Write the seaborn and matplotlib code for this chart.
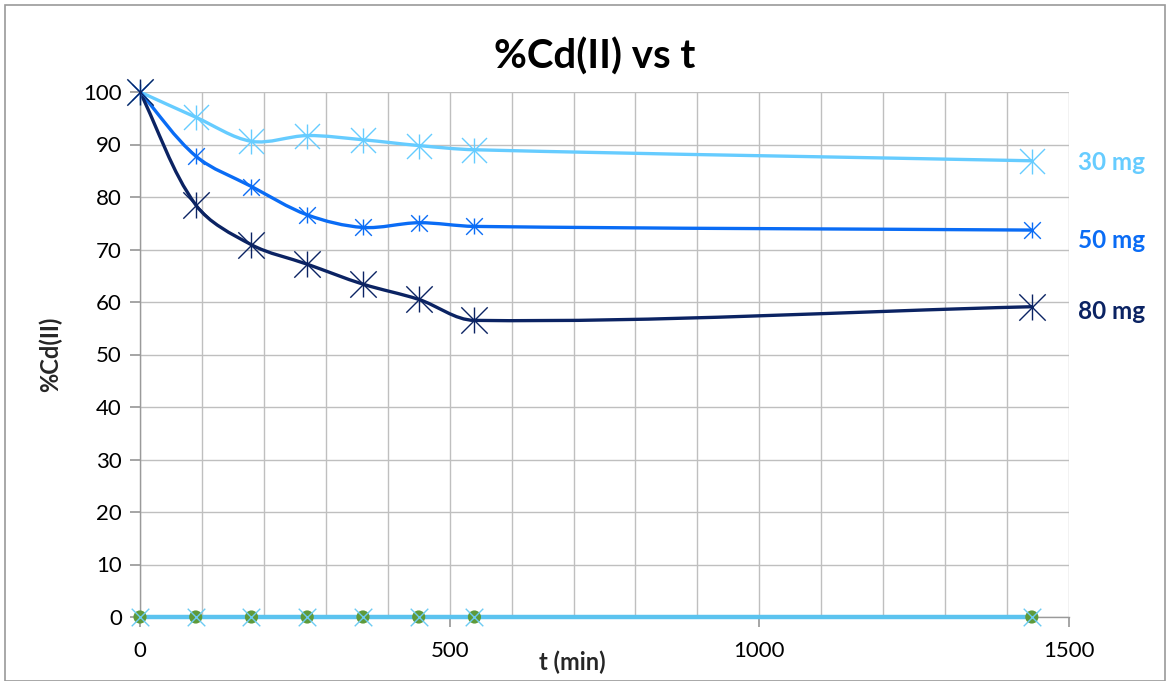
import numpy as np
import matplotlib
matplotlib.use("Agg")
import matplotlib.pyplot as plt
from matplotlib.path import Path
from matplotlib.patches import PathPatch, Rectangle
import seaborn as sns

# ---- data ----
t_min = [0, 90, 180, 270, 360, 450, 540, 1440]
cd_30mg = [100, 95.2, 90.6, 91.7, 90.9, 89.8, 89.0, 86.9]
cd_50mg = [100, 87.8, 82.0, 76.6, 74.2, 75.1, 74.4, 73.7]
cd_80mg = [100, 78.5, 70.9, 67.2, 63.4, 60.5, 56.5, 59.1]
cd_zero = [0, 0, 0, 0, 0, 0, 0, 0]
series_labels = ["30 mg", "50 mg", "80 mg"]
x_ticks = [0, 500, 1000, 1500]
y_ticks = [0, 10, 20, 30, 40, 50, 60, 70, 80, 90, 100]

sns.set_theme(style="white")
plt.rcParams['font.family'] = ['Lato', 'DejaVu Sans']

fig = plt.figure(figsize=(11.71, 6.81), dpi=100)
ax = fig.add_axes([140/1171, 1-617/681, (1069-140)/1171, (617-92)/681])

ax.set_xlim(0, 1500)
ax.set_ylim(0, 100)

# grid
ax.set_xticks(np.arange(0, 1501, 100), minor=True)
ax.set_xticks(x_ticks)
ax.set_yticks(y_ticks)
ax.grid(True, which='both', axis='x', color='#BFBFBF', lw=1.0)
ax.grid(True, which='major', axis='y', color='#BFBFBF', lw=1.0)
ax.set_axisbelow(True)
for s in ['top', 'right']:
    ax.spines[s].set_visible(False)
for s in ['left', 'bottom']:
    ax.spines[s].set_color('#9A9A9A')
    ax.spines[s].set_linewidth(1.0)
ax.tick_params(axis='y', which='major', direction='out', length=7, color='#9A9A9A',
               labelsize=16, pad=6, left=True)
ax.tick_params(axis='x', which='major', direction='out', length=7, color='#9A9A9A',
               labelsize=16, pad=10, bottom=True)
ax.tick_params(axis='x', which='minor', length=0)


def smooth_path(xs, ys, ax):
    # Bezier curve through the data points (Excel-style smoothed line)
    pts = ax.transData.transform(np.column_stack([xs, ys]))
    verts = [pts[0]]
    codes = [Path.MOVETO]
    n = len(pts)
    for i in range(n - 1):
        p0 = pts[i - 1] if i > 0 else pts[i]
        p1 = pts[i]
        p2 = pts[i + 1]
        p3 = pts[i + 2] if i + 2 < n else pts[i + 1]
        l01 = np.linalg.norm(p1 - p0)
        l12 = np.linalg.norm(p2 - p1)
        l23 = np.linalg.norm(p3 - p2)
        c1 = p1 + (p2 - p0) * (l12 / (l01 + l12)) / 3.0
        c2 = p2 - (p3 - p1) * (l12 / (l12 + l23)) / 3.0
        verts += [c1, c2, p2]
        codes += [Path.CURVE4] * 3
    verts = ax.transData.inverted().transform(np.array(verts))
    return Path(verts, codes)


colors = ['#66CCFF', '#0A6CF5', '#0B2363']
series = [cd_30mg, cd_50mg, cd_80mg]
msizes = [18, 12, 19]
fig.canvas.draw()
for ys, c, ms in zip(series, colors, msizes):
    p = smooth_path(t_min, ys, ax)
    ax.add_patch(PathPatch(p, fill=False, edgecolor=c, lw=2.4, capstyle='round',
                           joinstyle='round', zorder=3))
    sns.scatterplot(x=t_min, y=ys, marker='x', s=ms**2, color=c, linewidth=1.0,
                    ax=ax, zorder=4, clip_on=False)
    sns.scatterplot(x=t_min, y=ys, marker='|', s=ms**2, color=c, linewidth=1.0,
                    ax=ax, zorder=4, clip_on=False)

# zero series
ax.plot(t_min, cd_zero, color='#5BC3EF', lw=3.2, zorder=5, clip_on=False)
sns.scatterplot(x=t_min, y=cd_zero, marker='o', s=90, color='#5E9A3A', edgecolor='none',
                ax=ax, zorder=5, clip_on=False)
sns.scatterplot(x=t_min, y=cd_zero, marker='x', s=160, color='#6CCBF3', linewidth=1.0,
                ax=ax, zorder=6, clip_on=False)

# labels at right
label_y = [86.5, 71.8, 58.1]
for lab, c, yy in zip(series_labels, colors, label_y):
    ax.text(1514, yy, lab, color=c, fontsize=17.5, fontweight='bold',
            va='center', ha='left', clip_on=False)

fig.text(595/1171, 1-57/681, '%Cd(II) vs t', fontsize=29, fontweight='bold',
         color='black', ha='center', va='center')
ax.set_xlabel('t (min)', fontsize=17, fontweight='bold', va='center')
ax.set_ylabel('%Cd(II)', fontsize=17, fontweight='bold', va='center')
ax.xaxis.set_label_coords((572-140)/929, (617-662)/525)
ax.yaxis.set_label_coords((50-140)/929, (617-354)/525)
for lbl in ax.get_xticklabels() + ax.get_yticklabels():
    lbl.set_color('black')

# chart border
fig.patches.append(Rectangle((5/1171, 0), 1160/1171, 1-5/681, transform=fig.transFigure,
                             fill=False, edgecolor='#9A9A9A', lw=1.2))

fig.savefig('out.png', dpi=100, facecolor='white')
